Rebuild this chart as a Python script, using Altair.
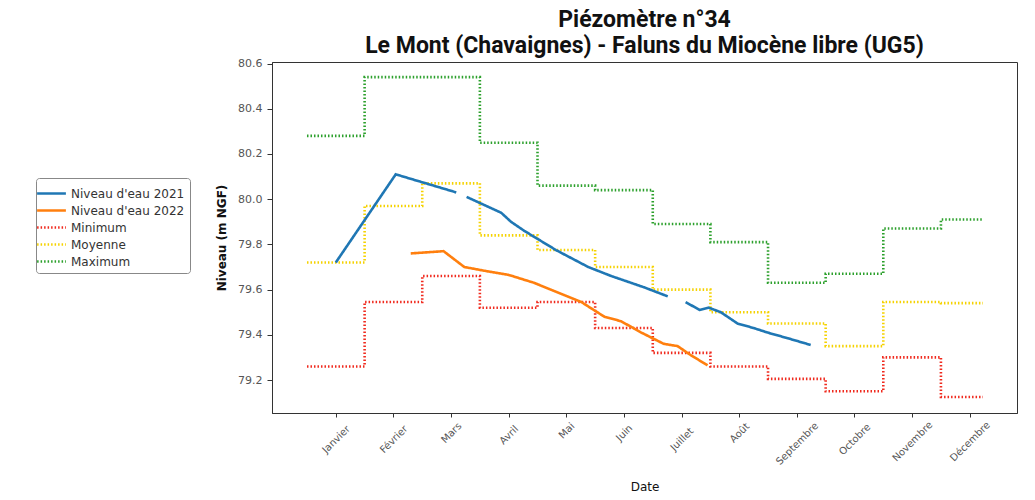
import json
import altair as alt
import pandas as pd

# ---------------- data ----------------
MONTHS = ["Janvier", "Février", "Mars", "Avril", "Mai", "Juin", "Juillet",
          "Août", "Septembre", "Octobre", "Novembre", "Décembre"]

MINIMUM = [79.26, 79.545, 79.66, 79.52, 79.545, 79.43, 79.32, 79.26, 79.205, 79.15, 79.30, 79.125]
MOYENNE = [79.72, 79.97, 80.07, 79.84, 79.775, 79.70, 79.60, 79.50, 79.45, 79.35, 79.545, 79.54]
MAXIMUM = [80.28, 80.54, 80.54, 80.25, 80.06, 80.04, 79.89, 79.81, 79.63, 79.67, 79.87, 79.91]
STEP_START = 0.48   # first day of the monthly statistics (in month units)
STEP_END = 12.23    # last day of the monthly statistics (in month units)

# month position (1 = Janvier) and level; None marks a gap in the record
X_2021 = [1.00, 2.04, 3.09, None, 3.27, 3.87, 4.04, 4.27, 4.82, 5.38, 5.78, 6.35, 6.76, None,
          7.07, 7.31, 7.47, 7.68, 7.97, 8.25, 8.49, 8.84, 9.24]
Y_2021 = [79.72, 80.11, 80.03, None, 80.01, 79.94, 79.90, 79.86, 79.775, 79.70, 79.66, 79.61, 79.57, None,
          79.545, 79.51, 79.52, 79.50, 79.45, 79.43, 79.41, 79.385, 79.355]

X_2022 = [2.30, 2.87, 3.23, 3.65, 4.00, 4.44, 5.26, 5.66, 5.95, 6.30, 6.69, 6.93, 7.16, 7.45]
Y_2022 = [79.76, 79.77, 79.70, 79.68, 79.665, 79.63, 79.545, 79.48, 79.46, 79.41, 79.36, 79.35, 79.31, 79.265]

SERIES = ["Niveau d'eau 2021", "Niveau d'eau 2022", "Minimum", "Moyenne", "Maximum"]
COLORS = ["#1f77b4", "#ff7f0e", "#f02a1e", "#f5d200", "#2ca02c"]
DASHES = [[1, 0], [1, 0], [1.5, 2], [1.5, 2], [1.5, 2]]
WIDTHS = [2.6, 2.6, 1.6, 1.6, 1.6]

Y_TICKS = [79.2, 79.4, 79.6, 79.8, 80.0, 80.2, 80.4, 80.6]

# ---------------- build table ----------------
rows = []
idx = 0
for name, vals in [("Minimum", MINIMUM), ("Moyenne", MOYENNE), ("Maximum", MAXIMUM)]:
    for i, v in enumerate(vals):
        m = i + 1
        x0 = max(m - 0.5, STEP_START)
        x1 = min(m + 0.5, STEP_END)
        for xx in (x0, x1):
            rows.append({"x": xx, "v": v, "serie": name, "seg": name, "idx": idx})
            idx += 1

for name, xs, ys in [("Niveau d'eau 2021", X_2021, Y_2021), ("Niveau d'eau 2022", X_2022, Y_2022)]:
    seg = 0
    for xx, yy in zip(xs, ys):
        if xx is None:
            seg += 1
            continue
        rows.append({"x": xx, "v": yy, "serie": name, "seg": f"{name}-{seg}", "idx": idx})
        idx += 1

df = pd.DataFrame(rows)

months_js = json.dumps(MONTHS, ensure_ascii=False)
month_expr = months_js + "[datum.value - 1]"
# rotated labels hang below the axis like matplotlib's (top of rotated box at fixed gap)
pad_expr = "3 + (length(" + months_js + "[datum.value - 1]) * 6.1 + 11) * 0.354"

FONT = "DejaVu Sans"

legend = alt.Legend(
    title=None, orient="none", legendX=-236, legendY=116,
    symbolType="M-1.6,0L1.6,0", symbolSize=324, rowPadding=0,
    labelFont=FONT, labelFontSize=12, labelColor="#333",
    strokeColor="#888", fillColor="white", padding=5, cornerRadius=3,
    labelOffset=9,
)

chart = alt.Chart(df).mark_line().encode(
    x=alt.X("x:Q",
            scale=alt.Scale(domain=[-0.107, 12.82], nice=False, zero=False),
            axis=alt.Axis(values=list(range(1, 13)), labelExpr=month_expr, title="Date",
                          labelAngle=-45, labelAlign="center", labelBaseline="middle",
                          labelPadding=alt.ExprRef(pad_expr),
                          labelOverlap=False, labelBound=False,
                          tickSize=4, grid=False,
                          labelFont=FONT, labelFontSize=10, labelColor="#555",
                          titleFont=FONT, titleFontSize=12, titleFontWeight="normal",
                          titleColor="#111", titlePadding=15,
                          domainColor="#333", tickColor="#333")),
    y=alt.Y("v:Q",
            scale=alt.Scale(domain=[79.054, 80.607], nice=False, zero=False),
            axis=alt.Axis(values=Y_TICKS, format=".1f", title="Niveau (m NGF)", grid=False,
                          tickSize=5, labelPadding=5,
                          labelFont=FONT, labelFontSize=11, labelColor="#555",
                          titleFont=FONT, titleFontSize=12, titleFontWeight="bold",
                          titleColor="#111", titlePadding=9,
                          domainColor="#333", tickColor="#333")),
    color=alt.Color("serie:N", scale=alt.Scale(domain=SERIES, range=COLORS), legend=legend),
    strokeDash=alt.StrokeDash("serie:N", scale=alt.Scale(domain=SERIES, range=DASHES), legend=legend),
    strokeWidth=alt.StrokeWidth("serie:N", scale=alt.Scale(domain=SERIES, range=WIDTHS), legend=legend),
    detail="seg:N",
    order="idx:Q",
).properties(
    width=745, height=351,
    title=alt.TitleParams(
        ["Piézomètre n°34", "Le Mont (Chavaignes) - Faluns du Miocène libre (UG5)"],
        font="Roboto", fontSize=23, fontWeight="bold", color="#111",
        anchor="middle", offset=0, lineHeight=26,
    ),
    autosize=alt.AutoSizeParams(type="none"),
    padding={"left": 264, "top": 54, "right": 10, "bottom": 84},
).configure_view(stroke="#333", strokeWidth=1)

chart.save("out.html", embed_options={"renderer": "svg", "actions": False})
